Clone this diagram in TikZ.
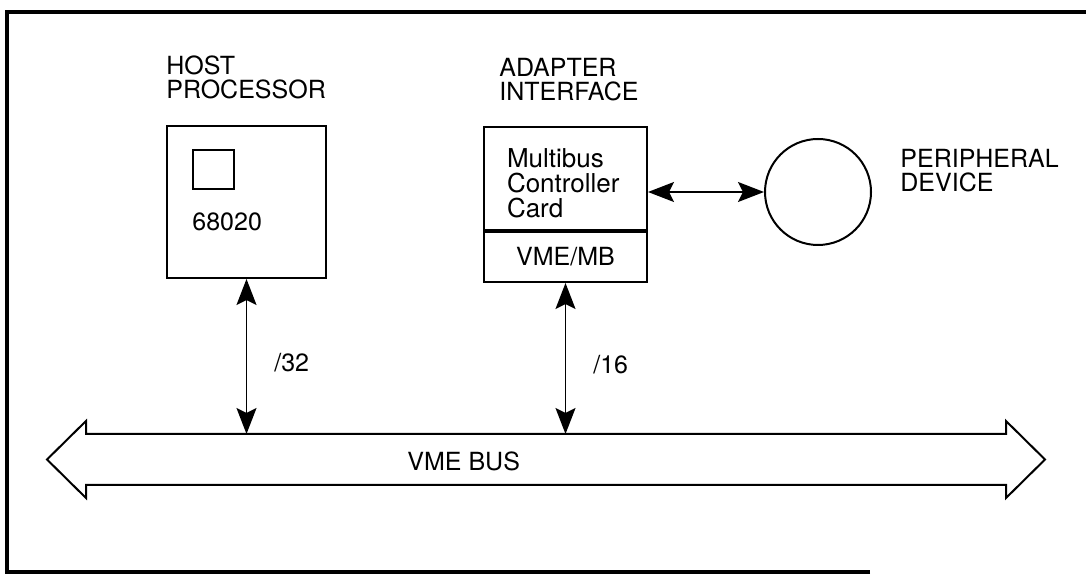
\documentclass[tikz,border=0pt]{standalone}
\usepackage{fontspec}
\setmainfont{TeX Gyre Heros}
\usetikzlibrary{arrows.meta,positioning}

\begin{document}
\begin{tikzpicture}[x=0.5pt,y=-0.5pt,
      box/.style={draw,line width=1pt,minimum width=81.5pt,inner sep=0pt},
      lbl/.style={inner sep=0pt,font=\fontsize{12.5}{12}\selectfont},
      head/.style={lbl,align=left},
      frame/.style={line width=1.8pt},
      arr/.style={{Stealth[length=13pt,width=10pt,inset=2.5pt]}-{Stealth[length=13pt,width=10pt,inset=2.5pt]},line width=0.8pt}]
    \useasboundingbox (0,0) rectangle (1086,576);
    \draw[frame] (870,572) -- (7,572) -- (7,12) -- (1086,12);
    % host processor
    \node[box,minimum width=79.5pt,minimum height=76pt] (host) at (246.5,202) {};
    \node[box,minimum width=20.5pt,minimum height=19.5pt] (chip) at (213.5,169.5) {};
    \node[lbl,anchor=west] (cpu) at (192,222) {68020};
    \node[head,above right=13pt and 0pt of host.north west] (hostname) {HOST\\PROCESSOR};
    % adapter interface
    \node[box,minimum height=51.5pt,align=left,text width=58.5pt,inner xsep=11.5pt,
          font=\fontsize{13}{12.5}\selectfont] (mbc) at (565.5,178.5) {\rule{0pt}{14.5pt}Multibus\\Controller\\Card};
    \node[box,minimum height=25pt,below=0pt of mbc,font=\fontsize{12.5}{12}\selectfont] (vmemb) {VME/MB};
    \node[head,above right=12.5pt and 8pt of mbc.north west] (adname) {ADAPTER\\INTERFACE};
    % peripheral
    \node[draw,circle,line width=1pt,minimum size=53pt] (per) at (818,192) {};
    \node[head,above right=0pt and 14pt of per.east] (pername) {PERIPHERAL\\DEVICE};
    \draw[arr] (mbc.east |- per.west) -- (per.west);
    % vme bus
    \coordinate (bustop) at (47,434);
    \draw[line width=1pt,line join=miter] (47,459.5) -- (86,421) -- (86,434) -- (1006,434) -- (1006,421)
      -- (1045,459.5) -- (1006,498) -- (1006,485) -- (86,485) -- (86,498) -- cycle;
    \node[lbl,anchor=west] (busname) at (407,461) {VME BUS};
    \draw[arr] (host.south) -- (host.south |- bustop) node[lbl,midway,right=13.5pt,yshift=-3pt] {/32};
    \draw[arr] (vmemb.south) -- (vmemb.south |- bustop) node[lbl,midway,right=13.5pt,yshift=-3pt] {/16};
\end{tikzpicture}
\end{document}
